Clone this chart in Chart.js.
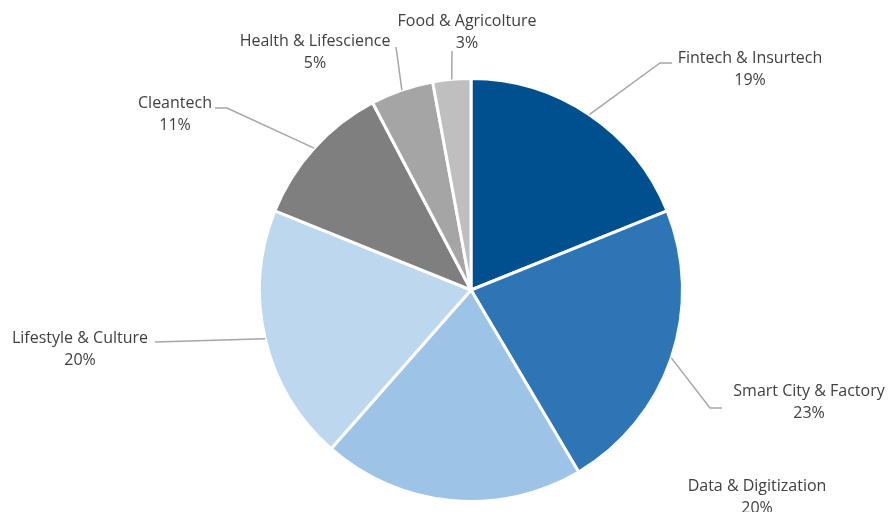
<!DOCTYPE html>
<html lang="en">
<head>
    <meta charset="UTF-8">
    <title>Sectors</title>
    <style>
        html, body {
            margin: 0;
            padding: 0;
            background: #fff;
        }
        #wrap {
            width: 889px;
            height: 512px;
        }
    </style>
</head>
<body>
    <div id="wrap"><canvas id="sectorChart" width="889" height="512"></canvas></div>
    <script src="https://cdn.jsdelivr.net/npm/chart.js"></script>
    <script>
        const sectors = ['Fintech & Insurtech', 'Smart City & Factory', 'Data & Digitization', 'Lifestyle & Culture', 'Cleantech', 'Health & Lifescience', 'Food & Agricolture'];
        const shares = [18.9, 22.6, 20.0, 19.6, 11.2, 4.8, 2.9];
        const sliceColors = ['#00508f', '#2e75b6', '#9dc3e6', '#bdd7ee', '#7f7f7f', '#a5a5a5', '#bfbfbf'];

        // where each label sits (text centre) and the elbow of its leader line
        const labelSpots = [
            { x: 750, y: 58, elbow: [660, 63], end: [672, 63] },
            { x: 809, y: 391, elbow: [710, 408], end: [722, 408] },
            { x: 757, y: 486, elbow: null, end: null },
            { x: 80, y: 338, elbow: null, end: [155, 342] },
            { x: 175, y: 103, elbow: [227, 108], end: [215, 108] },
            { x: 315, y: 41, elbow: null, end: [396, 47] },
            { x: 467, y: 21, elbow: null, end: [452, 51] }
        ];

        const outsideLabels = {
            id: 'outsideLabels',
            afterDatasetsDraw(chart) {
                const ctx = chart.ctx;
                const arcs = chart.getDatasetMeta(0).data;
                const total = shares.reduce((a, b) => a + b, 0);
                ctx.save();
                ctx.strokeStyle = '#a6a6a6';
                ctx.lineWidth = 1.5;
                arcs.forEach((arc, i) => {
                    const spot = labelSpots[i];
                    const p = arc.getProps(['x', 'y', 'startAngle', 'endAngle', 'outerRadius'], true);
                    const mid = (p.startAngle + p.endAngle) / 2;
                    if (spot.end) {
                        ctx.beginPath();
                        ctx.moveTo(p.x + Math.cos(mid) * p.outerRadius, p.y + Math.sin(mid) * p.outerRadius);
                        if (spot.elbow) ctx.lineTo(spot.elbow[0], spot.elbow[1]);
                        ctx.lineTo(spot.end[0], spot.end[1]);
                        ctx.stroke();
                    }
                    ctx.fillStyle = '#404040';
                    ctx.font = '16px "Open Sans"';
                    ctx.textAlign = 'center';
                    ctx.textBaseline = 'middle';
                    ctx.fillText(sectors[i], spot.x, spot.y);
                    ctx.fillText(Math.round(shares[i] / total * 100) + '%', spot.x, spot.y + 22);
                });
                ctx.restore();
            }
        };

        new Chart(document.getElementById('sectorChart').getContext('2d'), {
            type: 'pie',
            data: {
                labels: sectors,
                datasets: [{
                    data: shares,
                    backgroundColor: sliceColors,
                    borderColor: '#ffffff',
                    borderWidth: 3
                }]
            },
            options: {
                responsive: false,
                animation: false,
                layout: { padding: { left: 258, right: 205, top: 77, bottom: 9 } },
                plugins: {
                    legend: { display: false },
                    tooltip: { enabled: false }
                }
            },
            plugins: [outsideLabels]
        });
    </script>
</body>
</html>
